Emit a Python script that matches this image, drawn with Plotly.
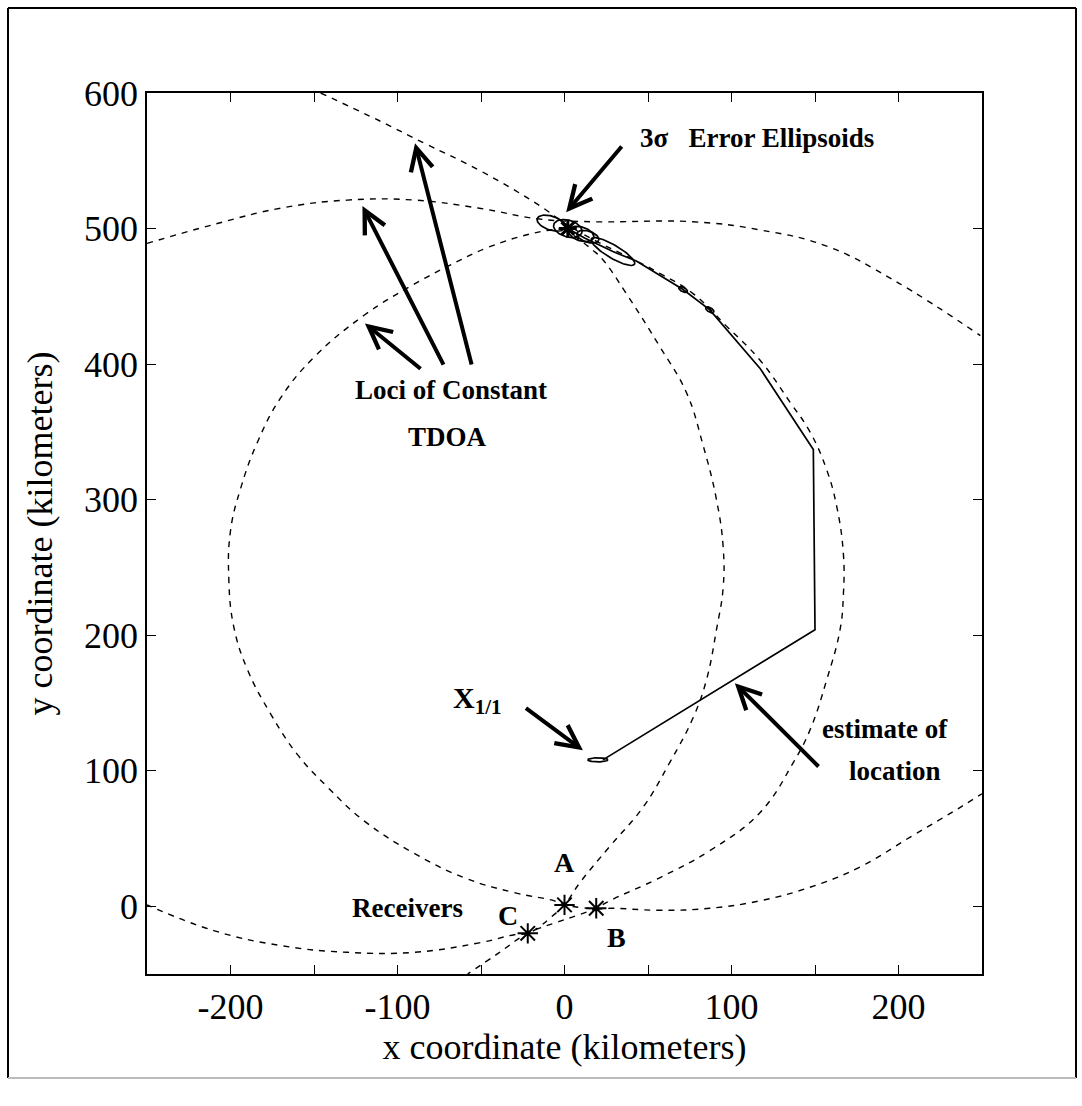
import numpy as np
import plotly.graph_objects as go

# ---------------- data (km) ----------------
# Loci of constant TDOA (dashed curves)
locus1_x = [-250, -210, -170, -130, -90, -51, -15, 17, 77, 117, 157, 197, 249]
locus1_y = [489, 503, 515, 521, 521, 515, 507, 505, 505, 499, 487, 462, 421]

locus2_x = [-146, -110, -84, -51, -15, 0, 20, 40, 57, 77, 97, 117, 135, 147, 157, 163, 167, 167,
            165, 157, 147, 137, 117, 87, 57, 27, 19, 7, -5, -22, -40, -58]
locus2_y = [600, 579, 563, 543, 517, 504, 490, 478, 467, 452, 428, 403, 372, 350, 322, 295, 260, 230,
            204, 167, 130, 106, 69, 41, 21, 4, -1.5, -7, -12, -20, -35, -50]

locus3_x = [0, -17, -46, -70, -90, -120, -150, -170, -184, -194, -200, -201, -198, -190, -176, -160,
            -142, -120, -90, -60, -30, -6, 0, 10, 20, 28, 57, 87, 117, 147, 177, 207, 237, 250]
locus3_y = [500, 497, 486, 472, 459, 436, 405, 375, 342, 308, 277, 241, 206, 175, 142, 112,
            88, 63, 39, 21, 10, 4, 1, -1, -2, -1.5, -3, -1.5, 4, 14, 29, 51, 73, 83]

locus4_x = [0, 17, 23, 37, 57, 73, 83, 91, 95, 95, 91, 85, 77, 63, 47, 27, 9, 0, -8, -15, -22,
            -30, -51, -90, -130, -170, -210, -250]
locus4_y = [500, 484, 477, 452, 413, 379, 340, 300, 265, 235, 204, 167, 139, 106, 73, 44, 17, 1, -8, -15, -20,
            -21, -27, -34, -34, -29, -18, 1]

# Estimate of location (solid track)
est_x = [23, 150, 149, 117, 87, 71, 43, 29, 12, 2]
est_y = [108, 204, 337, 397, 440, 455, 476, 483, 493, 500]

# 3-sigma error ellipses: centre, semi-axes (km), orientation (deg)
ell_cx = [-8, 2, 10, 14, 29, 71, 87, 20]
ell_cy = [504, 500, 496, 494, 483, 455, 440, 108]
ell_a = [9, 9, 8, 7, 16, 3, 3, 6]
ell_b = [5, 6, 5, 4, 4.5, 1.5, 1.5, 1.5]
ell_ang = [-25, -25, -25, -25, -37, -35, -40, 0]

# Receivers and target
rx_name = ["A", "B", "C"]
rx_x = [0, 19, -22]
rx_y = [1, -1.5, -20]
target_x = [2]
target_y = [500]

# Axis ticks
xtick_vals = list(range(-250, 251, 50))
xtick_text = ["" if v % 100 else str(v) for v in xtick_vals]
ytick_vals = list(range(0, 601, 100))

FONT = "Liberation Serif"
fig = go.Figure()

dash_pat = "6px,6px"
for lx, ly in [(locus1_x, locus1_y), (locus2_x, locus2_y), (locus3_x, locus3_y), (locus4_x, locus4_y)]:
    fig.add_trace(go.Scatter(x=lx, y=ly, mode="lines",
                             line=dict(color="black", width=1.4, dash=dash_pat, shape="spline",
                                       smoothing=1.2, simplify=False),
                             hoverinfo="skip"))

fig.add_trace(go.Scatter(x=est_x, y=est_y, mode="lines",
                         line=dict(color="black", width=1.7), hoverinfo="skip"))

t = np.linspace(0, 2 * np.pi, 80)
for cx, cy, a, b, ang in zip(ell_cx, ell_cy, ell_a, ell_b, ell_ang):
    th = np.deg2rad(ang)
    ex = cx + a * np.cos(t) * np.cos(th) - b * np.sin(t) * np.sin(th)
    ey = cy + a * np.cos(t) * np.sin(th) + b * np.sin(t) * np.cos(th)
    fig.add_trace(go.Scatter(x=ex, y=ey, mode="lines", line=dict(color="black", width=1.7),
                             hoverinfo="skip"))

fig.add_trace(go.Scatter(x=rx_x, y=rx_y, mode="markers",
                         marker=dict(symbol="asterisk-open", size=17, color="black",
                                     line=dict(color="black", width=2)),
                         hoverinfo="skip"))
fig.add_trace(go.Scatter(x=target_x, y=target_y, mode="markers",
                         marker=dict(symbol="asterisk-open", size=15, color="black",
                                     line=dict(color="black", width=3)),
                         hoverinfo="skip"))

# ---------------- annotations ----------------
def txt(x, y, s, size=27, bold=True):
    fig.add_annotation(x=x, y=y, xref="x", yref="y", text=("<b>%s</b>" % s) if bold else s,
                       showarrow=False, font=dict(family=FONT, size=size, color="black"),
                       xanchor="center", yanchor="middle")

txt(115, 567, "3σ&nbsp;&nbsp;&nbsp;Error Ellipsoids")
txt(-68, 381, "Loci of Constant")
txt(-70, 346, "TDOA")
txt(192, 131, "estimate of")
txt(198, 100, "location")
txt(-94, -1, "Receivers")
txt(0, 32, "A", 28)
txt(31, -23, "B", 28)
txt(-34, -7, "C", 28)
fig.add_annotation(x=-52, y=152, xref="x", yref="y",
                   text="<b>X</b><sub><b>1/1</b></sub>", showarrow=False,
                   font=dict(family=FONT, size=30, color="black"), xanchor="center", yanchor="middle")

arrows = [
    ((35, 561.6), (1, 512)),
    ((-85.3, 395.6), (-119.5, 430)),
    ((-72, 398.5), (-121, 516.6)),
    ((-55.4, 398.5), (-89.5, 563)),
    ((-24, 147), (11, 115)),
    ((153, 102), (102, 164.6)),
]
for (tx, ty), (hx, hy) in arrows:
    fig.add_annotation(x=hx, y=hy, ax=tx, ay=ty, xref="x", yref="y", axref="x", ayref="y",
                       text="", showarrow=True, arrowhead=5, arrowsize=1.1, arrowwidth=4,
                       arrowcolor="black", standoff=0, startstandoff=0)

# outer frame
frame = dict(type="line", xref="paper", yref="paper", line=dict(color="black", width=2))
L, R, T, B = -139 / 835, 929 / 835, 966 / 881, -104 / 881
fig.add_shape(**frame, x0=L, x1=L, y0=B, y1=T)
fig.add_shape(**frame, x0=L, x1=R, y0=T, y1=T)
fig.add_shape(**frame, x0=R, x1=R, y0=B, y1=T)
fig.add_shape(type="line", xref="paper", yref="paper", x0=L, x1=R, y0=B, y1=B,
              line=dict(color="#bbbbbb", width=2))

fig.update_layout(
    width=1082, height=1106, autosize=False,
    margin=dict(l=147, r=100, t=93, b=132),
    plot_bgcolor="white", paper_bgcolor="white", showlegend=False,
    font=dict(family=FONT, color="black"),
)
fig.update_xaxes(range=[-250, 250], tickmode="array", tickvals=xtick_vals, ticktext=xtick_text,
                 ticks="inside", ticklen=9, tickwidth=1.3, tickcolor="black",
                 showline=True, linecolor="black", linewidth=1.6, mirror="ticks",
                 showgrid=False, zeroline=False, tickfont=dict(family=FONT, size=36),
                 title=dict(text="x coordinate (kilometers)", font=dict(family=FONT, size=36), standoff=6))
fig.update_yaxes(range=[-50, 600], tickmode="array", tickvals=ytick_vals,
                 ticks="inside", ticklen=9, tickwidth=1.3, tickcolor="black",
                 showline=True, linecolor="black", linewidth=1.6, mirror="ticks",
                 showgrid=False, zeroline=False, tickfont=dict(family=FONT, size=36),
                 title=dict(text="y coordinate (kilometers)", font=dict(family=FONT, size=36), standoff=20))

fig.write_html("out.html")
